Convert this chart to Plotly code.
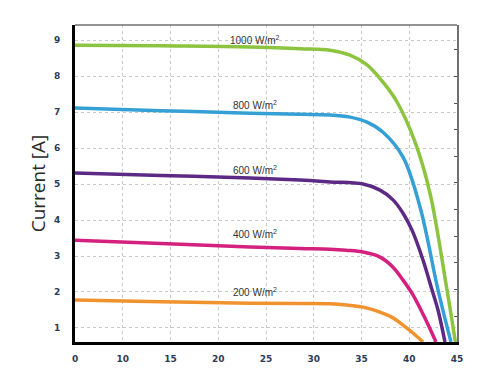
import plotly.graph_objects as go

# Voltage positions (axis units; first tick at 5 is labelled "0" as in the source)
v_1000 = [5, 14, 23.32, 28.56, 31.70, 33.80, 35.58, 37.25, 38.72, 40.60, 42.17, 43.95, 44.83]
i_1000 = [8.86, 8.84, 8.81, 8.76, 8.72, 8.58, 8.31, 7.83, 7.28, 6.17, 4.75, 2.06, 0.61]

v_800 = [5, 14, 23.32, 28.56, 31.70, 33.80, 35.58, 37.25, 39.35, 41.13, 43.01, 44.37]
i_800 = [7.11, 7.04, 6.97, 6.94, 6.92, 6.86, 6.72, 6.44, 5.75, 4.36, 2.06, 0.61]

v_600 = [5, 14, 23.32, 28.56, 31.70, 35.16, 36.94, 38.30, 39.35, 40.29, 41.44, 42.38, 43.01, 43.74]
i_600 = [5.31, 5.24, 5.17, 5.11, 5.06, 5.00, 4.83, 4.56, 4.19, 3.72, 2.89, 2.06, 1.50, 0.61]

v_400 = [5, 14, 23.32, 28.56, 31.70, 33.40, 35.16, 36.94, 38.30, 39.35, 40.39, 41.54, 42.80]
i_400 = [3.44, 3.35, 3.25, 3.21, 3.19, 3.16, 3.11, 2.97, 2.69, 2.33, 1.92, 1.33, 0.61]

v_200 = [5, 14, 23.32, 28.56, 31.70, 33.40, 35.16, 36.94, 38.30, 39.35, 40.39, 41.44]
i_200 = [1.78, 1.73, 1.69, 1.68, 1.67, 1.64, 1.58, 1.44, 1.28, 1.08, 0.86, 0.61]

series_names = ["1000 W/m<sup>2</sup>", "800 W/m<sup>2</sup>", "600 W/m<sup>2</sup>",
                "400 W/m<sup>2</sup>", "200 W/m<sup>2</sup>"]
series_colors = ["#8cc43f", "#35a0d4", "#5c2a85", "#d4217f", "#f0922e"]
label_x = [23.85, 23.85, 23.85, 23.85, 23.85]
label_y = [9.0, 7.19, 5.40, 3.62, 2.0]

x_tickvals = [5, 10, 15, 20, 25, 30, 35, 40, 45]
x_ticktext = ["0", "10", "15", "20", "25", "30", "35", "40", "45"]
y_tickvals = [1, 2, 3, 4, 5, 6, 7, 8, 9]

fig = go.Figure()
for v, i, c in zip([v_1000, v_800, v_600, v_400, v_200],
                   [i_1000, i_800, i_600, i_400, i_200], series_colors):
    fig.add_trace(go.Scatter(x=v, y=i, mode="lines",
                             line=dict(color=c, width=3.5, shape="spline", smoothing=1.0),
                             showlegend=False, hoverinfo="skip"))

# invisible trace on secondary axis to carry the right-side tick marks
fig.add_trace(go.Scatter(x=[5], y=[1], yaxis="y2", mode="markers",
                         marker=dict(opacity=0), showlegend=False, hoverinfo="skip"))

for name, lx, ly in zip(series_names, label_x, label_y):
    fig.add_annotation(x=lx, y=ly, text=name, showarrow=False,
                       font=dict(family="Liberation Sans Narrow, Liberation Sans, Arial",
                                 size=10, color="#333333"),
                       xanchor="center", yanchor="middle")

# the page body adds an 8px offset, so the figure is sized to compensate
fig.update_layout(
    width=491, height=374,
    margin=dict(l=67, r=42, t=17, b=40),
    paper_bgcolor="white", plot_bgcolor="white",
    xaxis=dict(range=[5, 45], tickvals=x_tickvals, ticktext=x_ticktext, automargin=False,
               showgrid=True, gridcolor="#c8c8c8", griddash="dot", gridwidth=1,
               showline=True, linecolor="black", linewidth=3, ticks="",
               ticklabelstandoff=6, zeroline=False,
               tickfont=dict(family="DejaVu Sans, Arial", size=9, color="#2e3b55", weight="bold")),
    yaxis=dict(range=[0.61, 9.42], tickvals=y_tickvals, automargin=False,
               showgrid=True, gridcolor="#c8c8c8", griddash="dot", gridwidth=1,
               showline=True, linecolor="black", linewidth=3, ticks="",
               ticklabelstandoff=10, zeroline=False,
               tickfont=dict(family="DejaVu Sans, Arial", size=9, color="#2e3b55", weight="bold"),
               title=dict(text="Current [A]", standoff=4,
                          font=dict(family="Open Sans, Liberation Sans, Arial", size=19, color="#2a2a2a"))),
    yaxis2=dict(overlaying="y", side="right", range=[0.61, 9.42], automargin=False,
                tick0=1.33, dtick=0.74, ticks="inside", ticklen=3, tickcolor="#555555",
                showticklabels=False, showgrid=False, zeroline=False,
                showline=True, linecolor="#707070", linewidth=1.5),
)

# top border
fig.add_shape(type="line", xref="paper", yref="paper", x0=0, x1=1, y0=1, y1=1,
              line=dict(color="#707070", width=1.5))

fig.write_html("out.html")
